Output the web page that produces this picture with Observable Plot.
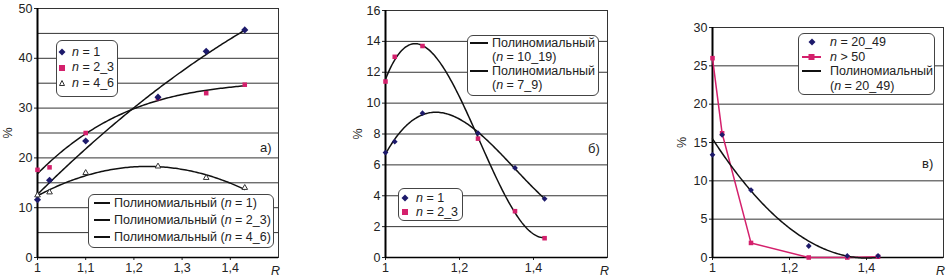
<!DOCTYPE html>
<html><head><meta charset="utf-8">
<script src="https://cdn.jsdelivr.net/npm/d3@7"></script>
<script src="https://cdn.jsdelivr.net/npm/@observablehq/plot@0.6"></script>
<style>
body{margin:0;background:#fff;font-family:"Liberation Sans",Arial,sans-serif;}
#wrap{position:relative;width:951px;height:279px;overflow:hidden;}
.panel{position:absolute;top:0;}
.leg{position:absolute;background:#fff;border:1px solid #444;border-radius:6px;box-sizing:border-box;font-size:12.5px;color:#222;}
.leg span{position:absolute;white-space:nowrap;line-height:15px;height:15px;}
.leg svg{position:absolute;overflow:visible;}
.tag{position:absolute;font-size:13px;color:#222;line-height:15px;}
</style></head><body><div id="wrap"></div>
<script>
// ---- data ----
const R = [1, 1.025, 1.1, 1.25, 1.35, 1.43];
const aN1  = [11.6, 15.5, 23.4, 32.2, 41.4, 45.7];
const aN23 = [17.6, 18.1, 25.0, 32.0, 33.0, 34.7];
const aN46 = [12.5, 13.1, 17.0, 18.3, 16.0, 14.0];
const bN1  = [6.8, 7.5, 9.35, 8.05, 5.8, 3.8];
const bN23 = [11.4, 13.0, 13.7, 7.7, 3.0, 1.25];
const cN2049 = [13.4, 16.0, 8.8, 1.5, 0.2, 0.2];
const cN50   = [26.0, 16.2, 1.9, 0.0, 0.0, 0.1];
const ticksA = [1, 1.1, 1.2, 1.3, 1.4];
const ticksBC = [1, 1.2, 1.4];
const navy = "#1d1a6b", pink = "#d4206c";

// least-squares polynomial trend line (like a spreadsheet "polynomial" trend)
function polyfit(xs, ys, deg){
  const n = deg + 1;
  const A = Array.from({length:n}, () => Array(n+1).fill(0));
  xs.forEach((x0,k) => { const x = x0 - 1;
    for (let i=0;i<n;i++){ for (let j=0;j<n;j++) A[i][j] += x**(i+j); A[i][n] += ys[k]*x**i; } });
  for (let i=0;i<n;i++){
    let p=i; for (let r=i+1;r<n;r++) if (Math.abs(A[r][i])>Math.abs(A[p][i])) p=r;
    [A[i],A[p]]=[A[p],A[i]];
    for (let r=0;r<n;r++){ if(r===i) continue; const f=A[r][i]/A[i][i]; for(let c=i;c<=n;c++) A[r][c]-=f*A[i][c]; }
  }
  const coef = A.map((row,i) => row[n]/row[i]);
  return x => coef.reduce((s,c,i) => s + c*(x-1)**i, 0);
}
function trend(xs, ys, deg){
  const f = polyfit(xs, ys, deg), lo = xs[0], hi = xs[xs.length-1];
  return d3.range(0,121).map(i => { const x = lo + (hi-lo)*i/120; return {x, y: f(x)}; });
}
const pts = ys => R.map((x,i) => ({x, y: ys[i]}));

function panel({left, width, ml, mr, mt, xdom, xticks, ydom, yticks, grid, labelOffset, marks}){
  const fmt = d => String(d).replace(".", ",");
  const p = Plot.plot({
    width, height: 279, marginLeft: ml, marginRight: mr, marginTop: mt, marginBottom: 22,
    style: {fontFamily: "Liberation Sans, Arial, sans-serif", fontSize: "12.5px", color: "#222", background: "transparent"},
    x: {domain: xdom}, y: {domain: ydom},
    marks: [
      Plot.ruleY(grid, {stroke: "#333", strokeWidth: 1}),
      Plot.frame({stroke: "#333"}),
      Plot.axisX({ticks: xticks, tickFormat: fmt, tickSize: 3, tickPadding: 3, label: null}),
      Plot.text([xdom[1]], {x: d => d, y: ydom[0], text: () => "R", dy: 13, dx: -3, fontStyle: "italic", fill: "#222"}),
      Plot.axisY({ticks: yticks, tickSize: 3, tickPadding: 2, label: "%", labelAnchor: "center", labelArrow: "none", labelOffset}),
      Plot.ruleX([xdom[0]], {stroke: "#000", strokeWidth: 2}),
      Plot.ruleY([ydom[0]], {stroke: "#000", strokeWidth: 1.5}),
      ...marks
    ]
  });
  const div = document.createElement("div");
  div.className = "panel"; div.style.left = left + "px";
  div.appendChild(p);
  document.getElementById("wrap").appendChild(div);
}
const trendLine = (ys, deg) => Plot.line(trend(R, ys, deg), {x: "x", y: "y", stroke: "#111", strokeWidth: 1.5, curve: "linear"});
const diamonds = ys => Plot.dot(pts(ys), {x: "x", y: "y", symbol: "diamond2", fill: navy, r: 3.2});
const circles = ys => Plot.dot(pts(ys), {x: "x", y: "y", symbol: "diamond2", fill: navy, r: 2.6});
const squares = ys => Plot.dot(pts(ys), {x: "x", y: "y", symbol: "square2", fill: pink, r: 2.9});
const tris = ys => Plot.dot(pts(ys), {x: "x", y: "y", symbol: "triangle", stroke: "#333", fill: "#fff", r: 2.1, strokeWidth: 1});

// Panel a
panel({left: 0, width: 310, ml: 37, mr: 32, mt: 8, xdom: [1, 1.5], xticks: ticksA, ydom: [0, 50],
  yticks: d3.range(0, 51, 10), grid: d3.range(5, 50, 5), labelOffset: 34,
  marks: [trendLine(aN1, 2), trendLine(aN23, 3), trendLine(aN46, 2), squares(aN23), diamonds(aN1), tris(aN46)]});
// Panel b
panel({left: 310, width: 320, ml: 75, mr: 23, mt: 10, xdom: [1, 1.6], xticks: ticksBC, ydom: [0, 16],
  yticks: d3.range(0, 17, 2), grid: d3.range(2, 16, 2), labelOffset: 32,
  marks: [trendLine(bN23, 3), trendLine(bN1, 3), squares(bN23), circles(bN1)]});
// Panel c
panel({left: 630, width: 321, ml: 82, mr: 8, mt: 27, xdom: [1, 1.6], xticks: ticksBC, ydom: [0, 30],
  yticks: d3.range(0, 31, 5), grid: d3.range(5, 30, 5), labelOffset: 35,
  marks: [Plot.line(pts(cN50), {x: "x", y: "y", stroke: pink, strokeWidth: 1.5}), trendLine(cN2049, 2),
    squares(cN50), circles(cN2049)]});

// ---- legends (layout only) ----
const wrap = document.getElementById("wrap");
function sym(type){
  if (type === "diamond") return `<svg width="8" height="8" style="left:-4px;top:-4px"><path d="M4 0.5L7.5 4L4 7.5L0.5 4Z" fill="${navy}"/></svg>`;
  if (type === "square") return `<svg width="6" height="6" style="left:-3px;top:-3px"><rect width="6" height="6" fill="${pink}"/></svg>`;
  if (type === "tri") return `<svg width="6" height="6" style="left:-3px;top:-3px"><path d="M3 0.5L5.5 5.5H0.5Z" fill="#fff" stroke="#333"/></svg>`;
  return "";
}
function legend(box, rows){
  const d = document.createElement("div");
  d.className = "leg";
  Object.assign(d.style, {left: box.l+"px", top: box.t+"px", width: box.w+"px", height: box.h+"px"});
  let html = "";
  for (const r of rows){
    const cy = r.y - box.t - 1;
    if (r.sym === "line" || r.sym === "pinkline"){
      const c = r.sym === "line" ? "#111" : pink;
      const w = r.x2 - r.x1;
      html += `<svg width="${w}" height="6" style="left:${r.x1-box.l-1}px;top:${cy-3}px"><line x1="0" x2="${w}" y1="3" y2="3" stroke="${c}" stroke-width="2"/>${r.sym==="pinkline"?`<rect x="${w/2-3}" y="0" width="6" height="6" fill="${pink}"/>`:""}</svg>`;
    } else if (r.sym){
      html += `<div style="position:absolute;left:${r.sx-box.l-1}px;top:${cy}px">${sym(r.sym)}</div>`;
    }
    html += `<span style="left:${r.tx-box.l-1}px;top:${cy-7.5}px">${r.text}</span>`;
  }
  d.innerHTML = html;
  wrap.appendChild(d);
}
function tag(text, x, y){
  const s = document.createElement("div"); s.className = "tag";
  s.style.left = x+"px"; s.style.top = (y-7.5)+"px"; s.textContent = text; wrap.appendChild(s);
}
legend({l:56, t:40, w:62, h:57}, [
  {y:52, sym:"diamond", sx:62, tx:72, text:"<i>n</i> = 1"},
  {y:67.5, sym:"square", sx:62, tx:72, text:"<i>n</i> = 2_3"},
  {y:83, sym:"tri", sx:62, tx:72, text:"<i>n</i> = 4_6"}]);
legend({l:88, t:194, w:186, h:54}, [
  {y:203, sym:"line", x1:94, x2:110, tx:114, text:"Полиномиальный (<i>n</i> = 1)"},
  {y:220, sym:"line", x1:94, x2:110, tx:114, text:"Полиномиальный (<i>n</i> = 2_3)"},
  {y:237, sym:"line", x1:94, x2:110, tx:114, text:"Полиномиальный (<i>n</i> = 4_6)"}]);
tag("а)", 260, 147);

legend({l:467, t:35, w:132, h:61}, [
  {y:43, sym:"line", x1:470, x2:488, tx:492, text:"Полиномиальный"},
  {y:57, tx:492, text:"(<i>n</i> = 10_19)"},
  {y:71, sym:"line", x1:470, x2:488, tx:492, text:"Полиномиальный"},
  {y:85, tx:492, text:"(<i>n</i> = 7_9)"}]);
legend({l:398, t:188, w:65, h:33}, [
  {y:198, sym:"diamond", sx:405, tx:416, text:"<i>n</i> = 1"},
  {y:212, sym:"square", sx:405, tx:416, text:"<i>n</i> = 2_3"}]);
tag("б)", 588, 148);

legend({l:798, t:33, w:137, h:62}, [
  {y:42, sym:"diamond", sx:812, tx:830, text:"<i>n</i> = 20_49"},
  {y:57, sym:"pinkline", x1:802, x2:821, tx:830, text:"<i>n</i> &gt; 50"},
  {y:71, sym:"line", x1:802, x2:821, tx:830, text:"Полиномиальный"},
  {y:86, tx:830, text:"(<i>n</i> = 20_49)"}]);
tag("в)", 922, 163);
</script></body></html>
